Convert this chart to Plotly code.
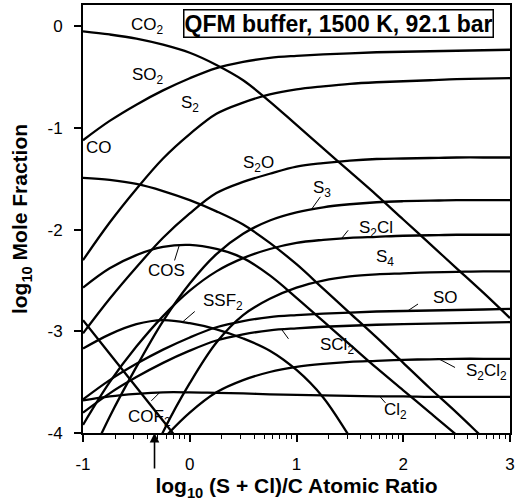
import math
import plotly.graph_objects as go

x = [-1, -0.75, -0.5, -0.25, 0, 0.25, 0.5, 0.75, 1, 1.25, 1.5, 1.75, 2, 2.25, 2.5, 2.75, 3]

CO2 = [-0.05, -0.08, -0.12, -0.18, -0.26, -0.38, -0.53, -0.74, -0.97, -1.20, -1.43, -1.66, -1.90, -2.14, -2.38, -2.62, -2.87]
SO2 = [-1.12, -0.93, -0.77, -0.63, -0.51, -0.41, -0.35, -0.31, -0.29, -0.275, -0.265, -0.255, -0.25, -0.245, -0.24, -0.235, -0.23]
S2 = [-2.30, -1.93, -1.60, -1.30, -1.06, -0.86, -0.75, -0.67, -0.62, -0.59, -0.565, -0.55, -0.54, -0.53, -0.52, -0.515, -0.51]
CO = [-1.49, -1.51, -1.55, -1.62, -1.71, -1.82, -1.95, -2.13, -2.34, -2.58, -2.82, -3.06, -3.31, -3.56, -3.80, -4.05, -4.30]
S2O = [-3.02, -2.68, -2.37, -2.08, -1.84, -1.64, -1.53, -1.45, -1.38, -1.345, -1.32, -1.305, -1.30, -1.295, -1.29, -1.29, -1.29]
S3 = [-4.40, -3.84, -3.35, -2.90, -2.53, -2.24, -2.04, -1.91, -1.83, -1.78, -1.75, -1.73, -1.72, -1.715, -1.71, -1.71, -1.71]
S2Cl = [-3.92, -3.50, -3.15, -2.85, -2.60, -2.41, -2.28, -2.19, -2.13, -2.10, -2.08, -2.07, -2.06, -2.055, -2.05, -2.05, -2.05]
COS = [-2.57, -2.38, -2.25, -2.17, -2.15, -2.19, -2.28, -2.45, -2.67, -2.90, -3.13, -3.36, -3.58, -3.80, -4.02, -4.25, -4.50]
S4 = [-5.99, -5.25, -4.59, -3.99, -3.51, -3.11, -2.84, -2.68, -2.57, -2.50, -2.46, -2.44, -2.43, -2.42, -2.415, -2.41, -2.41]
SSF2 = [-3.17, -3.03, -2.93, -2.89, -2.92, -2.98, -3.07, -3.19, -3.38, -3.65, -4.04, -4.45, -4.90, -5.35, -5.80, -6.25, -6.70]
SO = [-3.67, -3.48, -3.32, -3.18, -3.06, -2.96, -2.90, -2.86, -2.84, -2.825, -2.815, -2.805, -2.80, -2.795, -2.79, -2.785, -2.78]
SCl2 = [-3.80, -3.61, -3.45, -3.31, -3.19, -3.09, -3.03, -2.99, -2.97, -2.955, -2.945, -2.935, -2.93, -2.925, -2.92, -2.915, -2.91]
S2Cl2 = [-5.06, -4.69, -4.36, -4.06, -3.80, -3.60, -3.48, -3.40, -3.35, -3.32, -3.30, -3.29, -3.28, -3.275, -3.27, -3.27, -3.27]
COF2 = [-2.89, -3.22, -3.55, -3.88, -4.21, -4.54, -4.87, -5.20, -5.53, -5.86, -6.19, -6.52, -6.85, -7.18, -7.51, -7.84, -8.17]
Cl2 = [-3.68, -3.64, -3.615, -3.60, -3.60, -3.605, -3.61, -3.62, -3.625, -3.63, -3.635, -3.64, -3.64, -3.645, -3.645, -3.645, -3.645]

series = [CO2, SO2, S2, CO, S2O, S3, S2Cl, COS, S4, SSF2, SO, SCl2, S2Cl2, COF2, Cl2]

x_ticks = [-1, 0, 1, 2, 3]
x_tick_text = ["-1", "0", "1", "2", "3"]
y_ticks = [0, -1, -2, -3, -4]
y_tick_text = ["0", "-1", "-2", "-3", "-4"]

FONT = "Liberation Sans, Arial, sans-serif"

fig = go.Figure()
for s in series:
    fig.add_trace(go.Scatter(x=x, y=s, mode="lines",
                             line=dict(color="black", width=2.3, shape="spline", smoothing=1.0),
                             showlegend=False, hoverinfo="skip"))

minor = []
for d in [-1, 0, 1, 2]:
    for k in range(2, 10):
        minor.append(d + math.log10(k))

labels = [
    ("CO<sub>2</sub>", -0.40, 0.0),
    ("SO<sub>2</sub>", -0.39, -0.49),
    ("S<sub>2</sub>", 0.0, -0.76),
    ("CO", -0.85, -1.19),
    ("S<sub>2</sub>O", 0.64, -1.35),
    ("S<sub>3</sub>", 1.24, -1.60),
    ("S<sub>2</sub>Cl", 1.74, -1.99),
    ("COS", -0.22, -2.40),
    ("S<sub>4</sub>", 1.83, -2.28),
    ("SSF<sub>2</sub>", 0.31, -2.71),
    ("SO", 2.40, -2.67),
    ("SCl<sub>2</sub>", 1.38, -3.14),
    ("S<sub>2</sub>Cl<sub>2</sub>", 2.78, -3.40),
    ("Cl<sub>2</sub>", 1.93, -3.78),
    ("COF<sub>2</sub>", -0.38, -3.85),
]
for t, lx, ly in labels:
    fig.add_annotation(x=lx, y=ly, text=t, showarrow=False, font=dict(size=17, family=FONT, color="black"))

leaders = [
    (-0.10, -2.16, -5, 16),    # COS
    (-0.07, -2.91, 14, -12),   # SSF2
    (1.14, -1.80, 10, -14),    # S3
    (1.42, -2.09, 8, -10),     # S2Cl
    (2.04, -2.80, 12, -8),     # SO
    (0.86, -2.98, 8, 11),      # SCl2
    (2.34, -3.275, 17, 9),     # S2Cl2
    (1.78, -3.64, 7, 8),       # Cl2
    (-0.28, -3.60, -10, 10),   # COF2
]
for lx, ly, dx, dy in leaders:
    fig.add_annotation(x=lx, y=ly, ax=dx, ay=dy, text="", showarrow=True, arrowhead=0,
                       arrowwidth=1, arrowcolor="black", standoff=0, startstandoff=0)

fig.add_annotation(xref="paper", yref="paper", x=0.962, y=0.99, xanchor="right", yanchor="top",
                   text="<b>QFM buffer, 1500 K, 92.1 bar</b>", showarrow=False,
                   font=dict(size=23, family=FONT, color="black"),
                   bordercolor="black", borderwidth=1.5, borderpad=0, bgcolor="white")

fig.add_annotation(x=-0.33, y=-4.0, ax=0, ay=37, text="", showarrow=True, arrowhead=2, arrowsize=1.2,
                   arrowwidth=1.6, arrowcolor="black")
fig.add_annotation(x=-0.40, y=-4.35, xanchor="right", text="Kilauea<br>gases", showarrow=False,
                   yanchor="middle", align="right", font=dict(size=14, family=FONT, color="black"))

fig.update_xaxes(range=[-1, 3], tickvals=x_ticks, ticktext=x_tick_text, ticks="outside", ticklen=7,
                 tickwidth=1.5, tickcolor="black", ticklabelstandoff=8,
                 showline=True, linecolor="black", linewidth=2, mirror=True, showgrid=False, zeroline=False,
                 tickfont=dict(size=17, family=FONT, color="black"), automargin=False,
                 minor=dict(tickvals=minor, ticks="outside", ticklen=4, tickcolor="black", tickwidth=1.3),
                 title=dict(text="<b>log<sub>10</sub> (S + Cl)/C Atomic Ratio</b>",
                            font=dict(size=21, family=FONT, color="black"), standoff=4))
fig.update_yaxes(range=[-4, 0.21], tickvals=y_ticks, ticktext=y_tick_text, ticks="outside", ticklen=7,
                 tickwidth=1.5, tickcolor="black", ticklabelstandoff=8,
                 showline=True, linecolor="black", linewidth=2, mirror=True, showgrid=False, zeroline=False,
                 tickfont=dict(size=17, family=FONT, color="black"), automargin=False,
                 title=dict(text="<b>log<sub>10</sub> Mole Fraction</b>",
                            font=dict(size=21, family=FONT, color="black"), standoff=14))

fig.update_layout(width=515, height=504, margin=dict(l=83, r=5, t=5, b=71),
                  plot_bgcolor="white", paper_bgcolor="white")
fig.write_html("out.html", config={"displayModeBar": False},
               post_script="document.body.style.margin='0px';")
